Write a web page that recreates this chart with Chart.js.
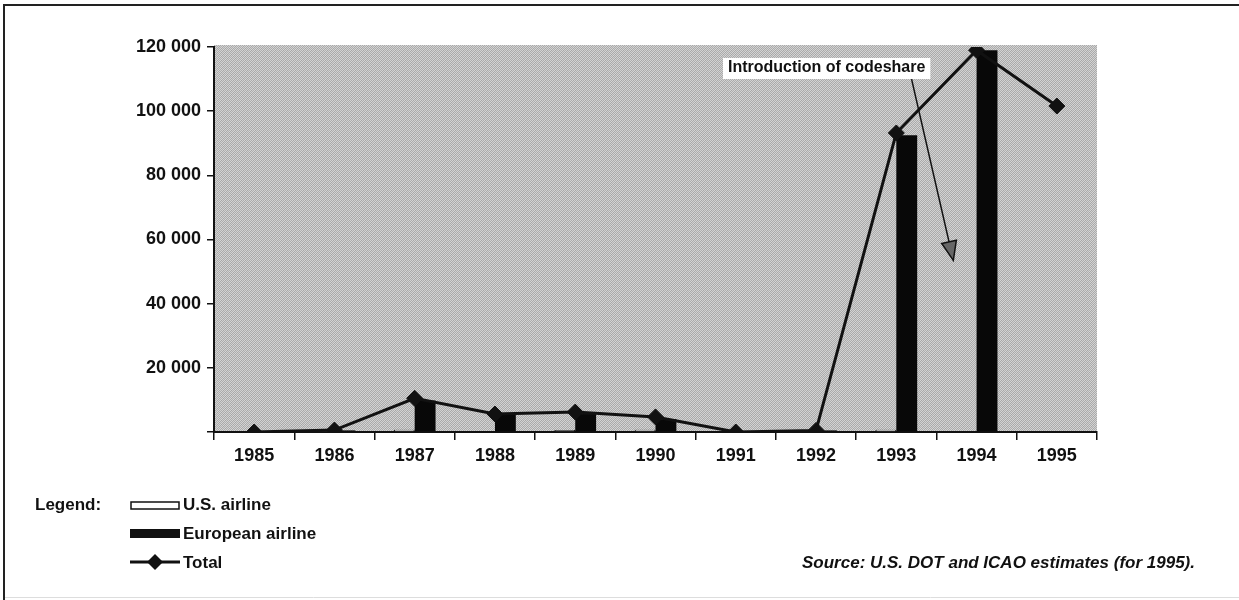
<!DOCTYPE html>
<html>
<head>
<meta charset="utf-8">
<script src="https://cdn.jsdelivr.net/npm/chart.js@4/dist/chart.umd.min.js"></script>
<style>
  html, body { margin: 0; padding: 0; background: #fff; }
  #wrap { position: relative; width: 1239px; height: 600px; }
  canvas { display: block; }
</style>
</head>
<body>
<div id="wrap"><canvas id="c" width="1239" height="600"></canvas></div>
<script>
// Codeshare passengers by year
const years = ['1985', '1986', '1987', '1988', '1989', '1990', '1991', '1992', '1993', '1994', '1995'];
const usAirline = [0, 100, 700, 300, 600, 700, 0, 0, 700, 0, null];
const europeanAirline = [0, 500, 9800, 5300, 5600, 4000, 0, 500, 92500, 119000, null];
const total = [0, 600, 10500, 5600, 6200, 4700, 0, 500, 93200, 119000, 101600];
const yTicks = [20000, 40000, 60000, 80000, 100000, 120000];

const FONT = "'Liberation Sans', Arial, sans-serif";
const INK = '#111';

// Half-tone style fill for the plotting area
function makeScreen(ctx) {
  const p = document.createElement('canvas');
  p.width = 4; p.height = 4;
  const g = p.getContext('2d');
  const shades = [
    ['#d4d4d4', '#a6a6a6', '#d0d0d0', '#adadad'],
    ['#aaaaaa', '#d2d2d2', '#acacac', '#d6d6d6'],
    ['#cecece', '#b0b0b0', '#d4d4d4', '#a6a6a6'],
    ['#aeaeae', '#d6d6d6', '#a9a9a9', '#d0d0d0']
  ];
  for (let y = 0; y < 4; y++) for (let x = 0; x < 4; x++) {
    g.fillStyle = shades[y][x];
    g.fillRect(x, y, 1, 1);
  }
  return ctx.createPattern(p, 'repeat');
}

const plotBackground = {
  id: 'plotBackground',
  beforeDraw(chart) {
    const { ctx, chartArea: a } = chart;
    ctx.save();
    ctx.fillStyle = makeScreen(ctx);
    ctx.fillRect(a.left, a.top - 2, a.right - a.left, a.bottom - a.top + 2);
    ctx.restore();
  }
};

const frameAndNotes = {
  id: 'frameAndNotes',
  afterDraw(chart) {
    const { ctx, scales } = chart;
    const x = scales.x, y = scales.y;
    ctx.save();

    // page frame
    ctx.strokeStyle = '#222';
    ctx.lineWidth = 2;
    ctx.beginPath();
    ctx.moveTo(4, 600);
    ctx.lineTo(4, 5);
    ctx.lineTo(1239, 5);
    ctx.stroke();
    ctx.strokeStyle = '#ddd';
    ctx.lineWidth = 1;
    ctx.beginPath();
    ctx.moveTo(5, 597.5);
    ctx.lineTo(1239, 597.5);
    ctx.stroke();

    // codeshare annotation
    const step = x.getPixelForValue(1) - x.getPixelForValue(0);
    const ax0 = x.getPixelForValue(8) + step * 0.19;
    const ay0 = y.getPixelForValue(110000);
    const ax1 = x.getPixelForValue(8) + step * 0.71;
    const ay1 = y.getPixelForValue(53500);
    ctx.strokeStyle = INK;
    ctx.lineWidth = 1.5;
    ctx.beginPath();
    ctx.moveTo(ax0, ay0);
    ctx.lineTo(ax1, ay1);
    ctx.stroke();
    const ang = Math.atan2(ay1 - ay0, ax1 - ax0);
    const hl = 19, hw = 7.5;
    const bx = ax1 - hl * Math.cos(ang), by = ay1 - hl * Math.sin(ang);
    ctx.beginPath();
    ctx.moveTo(ax1, ay1);
    ctx.lineTo(bx + hw * Math.sin(ang), by - hw * Math.cos(ang));
    ctx.lineTo(bx - hw * Math.sin(ang), by + hw * Math.cos(ang));
    ctx.closePath();
    ctx.fillStyle = '#666';
    ctx.fill();
    ctx.stroke();

    ctx.font = 'bold 16px ' + FONT;
    ctx.textBaseline = 'middle';
    ctx.textAlign = 'left';
    const label = 'Introduction of codeshare';
    const tw = ctx.measureText(label).width;
    const lx = 728, ly = 68;
    ctx.fillStyle = '#fff';
    ctx.fillRect(lx - 5, ly - 10, tw + 10, 21);
    ctx.fillStyle = INK;
    ctx.fillText(label, lx, ly);

    // legend
    ctx.font = 'bold 17px ' + FONT;
    ctx.fillText('Legend:', 35, 505);
    ctx.fillText('U.S. airline', 183, 505);
    ctx.fillText('European airline', 183, 534);
    ctx.fillText('Total', 183, 563);

    ctx.strokeStyle = INK;
    ctx.lineWidth = 1.5;
    ctx.fillStyle = '#fff';
    ctx.fillRect(131, 502, 48, 7);
    ctx.strokeRect(131, 502, 48, 7);
    ctx.fillStyle = INK;
    ctx.fillRect(130, 529, 50, 9);

    ctx.lineWidth = 3;
    ctx.beginPath();
    ctx.moveTo(130, 562);
    ctx.lineTo(180, 562);
    ctx.stroke();
    ctx.beginPath();
    ctx.moveTo(155, 554);
    ctx.lineTo(163, 562);
    ctx.lineTo(155, 570);
    ctx.lineTo(147, 562);
    ctx.closePath();
    ctx.fill();

    // source note
    ctx.font = 'italic bold 17px ' + FONT;
    ctx.textAlign = 'right';
    ctx.fillText('Source: U.S. DOT and ICAO estimates (for 1995).', 1195, 563);

    ctx.restore();
  }
};

const tickFont = { family: FONT, size: 18, weight: 'bold' };

new Chart(document.getElementById('c'), {
  type: 'bar',
  data: {
    labels: years,
    datasets: [
      {
        type: 'line',
        label: 'Total',
        data: total,
        order: 0,
        borderColor: INK,
        borderWidth: 3,
        backgroundColor: INK,
        pointStyle: 'rectRot',
        pointRadius: 8,
        pointBackgroundColor: INK,
        pointBorderColor: INK,
        pointBorderWidth: 1,
        tension: 0,
        fill: false
      },
      {
        label: 'U.S. airline',
        data: usAirline,
        order: 1,
        backgroundColor: '#fff',
        borderColor: '#000',
        borderWidth: 1,
        categoryPercentage: 0.52,
        barPercentage: 1
      },
      {
        label: 'European airline',
        data: europeanAirline,
        order: 1,
        backgroundColor: '#080808',
        borderWidth: 0,
        categoryPercentage: 0.52,
        barPercentage: 1
      }
    ]
  },
  options: {
    responsive: false,
    animation: false,
    events: [],
    layout: { padding: { top: 47, right: 142, bottom: 128, left: 0 } },
    plugins: { legend: { display: false }, tooltip: { enabled: false } },
    scales: {
      x: {
        offset: true,
        afterFit(s) { s.height = 40; },
        grid: { display: true, drawOnChartArea: false, offset: true, tickLength: 8, color: INK, lineWidth: 1.5 },
        border: { display: true, color: INK, width: 2 },
        ticks: { font: tickFont, color: INK, padding: 5, maxRotation: 0 }
      },
      y: {
        min: 0,
        max: 120000,
        afterFit(s) { s.width = 214; },
        afterBuildTicks(s) { s.ticks = [{ value: 0 }].concat(yTicks.map(v => ({ value: v }))); },
        grid: { display: true, drawOnChartArea: false, tickLength: 7, color: INK, lineWidth: 1.5 },
        border: { display: true, color: INK, width: 2 },
        ticks: {
          font: tickFont,
          color: INK,
          padding: 6,
          callback(v) { return v === 0 ? '' : String(v).replace(/\B(?=(\d{3})+(?!\d))/g, ' '); }
        }
      }
    }
  },
  plugins: [plotBackground, frameAndNotes]
});
</script>
</body>
</html>
